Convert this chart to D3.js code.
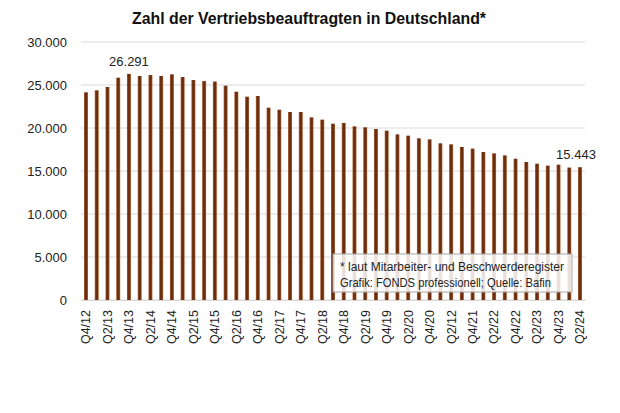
<!DOCTYPE html>
<html><head><meta charset="utf-8">
<script src="https://cdn.jsdelivr.net/npm/d3@7"></script>
<style>body{margin:0;background:#fff}svg{display:block}</style>
</head><body>
<script>
const quarters = ["Q4/12","Q1/13","Q2/13","Q3/13","Q4/13","Q1/14","Q2/14","Q3/14","Q4/14","Q1/15","Q2/15","Q3/15","Q4/15",
"Q1/16","Q2/16","Q3/16","Q4/16","Q1/17","Q2/17","Q3/17","Q4/17","Q1/18","Q2/18","Q3/18","Q4/18",
"Q1/19","Q2/19","Q3/19","Q4/19","Q1/20","Q2/20","Q3/20","Q4/20","Q1/21","Q2/12","Q3/21","Q4/21",
"Q1/22","Q2/22","Q3/22","Q4/22","Q1/23","Q2/23","Q3/23","Q4/23","Q1/24","Q2/24"];
const values = [24150,24380,24770,25850,26291,26050,26160,26050,26240,25930,25580,25450,25400,
24920,24220,23640,23720,22360,22130,21860,21860,21240,20970,20500,20580,
20190,20080,19880,19690,19260,19110,18800,18680,18220,18100,17790,17600,
17210,17050,16820,16430,16050,15850,15620,15740,15400,15443];
const labelledIdx = [4, 46];
const yTicks = [0,5000,10000,15000,20000,25000,30000];
const title = "Zahl der Vertriebsbeauftragten in Deutschland*";
const noteLines = ["* laut Mitarbeiter- und Beschwerderegister","Grafik: FONDS professionell; Quelle: Bafin"];

const W=620,H=413;
const loc = d3.formatLocale({decimal:",",thousands:".",grouping:[3],currency:["","€"]});
const fmt = loc.format(",d");
const svg = d3.select("body").append("svg").attr("width",W).attr("height",H);
const font = "Liberation Sans, Arial, sans-serif";

const x = d3.scaleBand().domain(quarters).range([81,585]).paddingInner(0.63).paddingOuter(0.28);
const y = d3.scaleLinear().domain([0,30000]).range([300,42]);

const defs = svg.append("defs");
const g = defs.append("linearGradient").attr("id","bg").attr("x1","0").attr("x2","1").attr("y1","0").attr("y2","0");
g.append("stop").attr("offset","0").attr("stop-color","#b5683a");
g.append("stop").attr("offset","0.3").attr("stop-color","#6a2f10");
g.append("stop").attr("offset","0.7").attr("stop-color","#6a2f10");
g.append("stop").attr("offset","1").attr("stop-color","#b5683a");

// gridlines
svg.append("g").selectAll("line").data(yTicks).join("line")
  .attr("x1",81).attr("x2",585).attr("y1",d=>y(d)).attr("y2",d=>y(d))
  .attr("stroke","#d9d9d9").attr("stroke-width",1.2);

// y axis labels
const yAxis = svg.append("g").attr("transform","translate(81,0)")
  .call(d3.axisLeft(y).tickValues(yTicks).tickFormat(d=>fmt(d)).tickSize(0).tickPadding(14));
yAxis.select(".domain").remove();
yAxis.selectAll("text").attr("font-family",font).attr("font-size",13).attr("fill","#222");

// bars
svg.append("g").selectAll("rect").data(values).join("rect")
  .attr("x",(d,i)=>x(quarters[i])).attr("width",x.bandwidth())
  .attr("y",d=>y(d)).attr("height",d=>y(0)-y(d)).attr("fill","url(#bg)");

// x axis
const xAxis = svg.append("g").attr("transform","translate(0,300)")
  .call(d3.axisBottom(x).tickValues(quarters.filter((q,i)=>i%2===0)).tickSize(0));
xAxis.select(".domain").attr("stroke","#d9d9d9").attr("stroke-width",1.2);
xAxis.selectAll("text").attr("font-family",font).attr("font-size",12.5).attr("fill","#222")
  .attr("transform","rotate(-90)").attr("text-anchor","end").attr("x",-10).attr("y",0).attr("dy","0.35em");

// data labels
svg.append("g").selectAll("text").data(labelledIdx).join("text")
  .attr("x",i=>x(quarters[i])+x.bandwidth()/2 + (i===46?-4:0)).attr("y",i=>y(values[i])-8)
  .attr("text-anchor","middle").attr("font-family",font).attr("font-size",13).attr("fill","#222")
  .text(i=>fmt(values[i]));

// note box
const nb = svg.append("g");
nb.append("rect").attr("x",333).attr("y",254).attr("width",239).attr("height",38)
  .attr("fill","#fff").attr("fill-opacity",0.85).attr("stroke","#a6a6a6").attr("stroke-width",1);
nb.selectAll("text").data(noteLines).join("text")
  .attr("x",340).attr("y",(d,i)=>271+i*16).attr("font-family",font).attr("font-size",12).attr("fill","#222")
  .attr("textLength",(d,i)=>i===0?224:211).attr("lengthAdjust","spacingAndGlyphs").text(d=>d);

// title
svg.append("text").attr("x",309).attr("y",24).attr("text-anchor","middle")
  .attr("font-family",font).attr("font-weight","bold").attr("font-size",16).attr("fill","#111")
  .attr("textLength",354).attr("lengthAdjust","spacingAndGlyphs").text(title);
</script>
</body></html>
